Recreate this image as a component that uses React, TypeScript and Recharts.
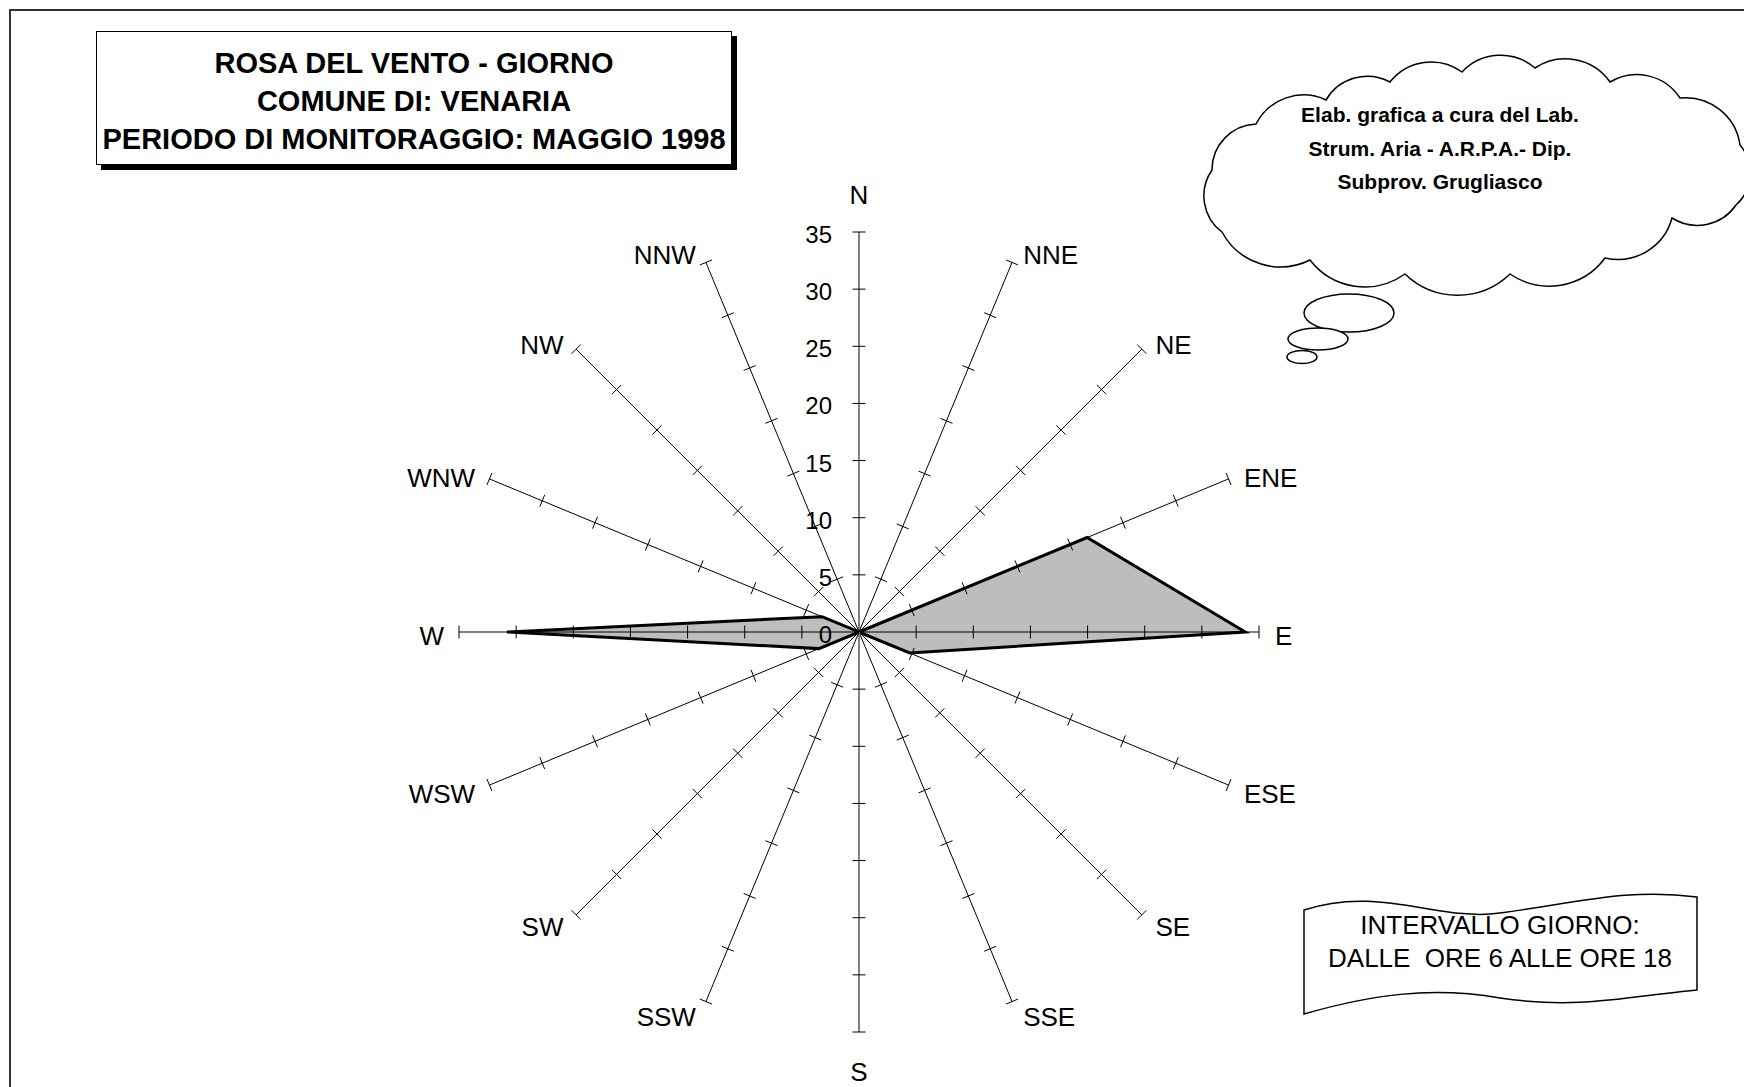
import React from 'react';
import { RadarChart, Radar, PolarAngleAxis, PolarRadiusAxis } from 'recharts';

// ── data ─────────────────────────────────────────────────────────────
const DIRECTIONS = ['N', 'NNE', 'NE', 'ENE', 'E', 'ESE', 'SE', 'SSE', 'S', 'SSW', 'SW', 'WSW', 'W', 'WNW', 'NW', 'NNW'];
const FREQUENCY = [0, 0, 0, 21.6, 33.8, 4.8, 0, 0, 0, 0, 0, 3.8, 30.8, 3.5, 0, 0];
const RADIUS_TICKS = [0, 5, 10, 15, 20, 25, 30, 35];

const TITLE_LINES = ['ROSA DEL VENTO - GIORNO', 'COMUNE DI: VENARIA', 'PERIODO DI MONITORAGGIO: MAGGIO 1998'];
const CREDIT_LINES = ['Elab. grafica a cura del Lab.', 'Strum. Aria - A.R.P.A.- Dip.', 'Subprov. Grugliasco'];
const NOTE_LINES = ['INTERVALLO GIORNO:', 'DALLE  ORE 6 ALLE ORE 18'];

const chartData = DIRECTIONS.map((dir, i) => ({ dir, freq: FREQUENCY[i] }));

const FONT = "Arial, 'Liberation Sans', Helvetica, sans-serif";

// ── ticks ────────────────────────────────────────────────────────────

function DirTick(props: any) {
  const { x, y, payload } = props;
  const a = (payload.coordinate * Math.PI) / 180;
  const c = Math.cos(a);
  const s = Math.sin(a);
  let tx = x;
  let ty = y;
  let anchor: 'start' | 'middle' | 'end' = 'middle';
  if (Math.abs(c) < 0.01) {
    ty = s > 0 ? y - 20 : y + 41;
  } else {
    anchor = c > 0 ? 'start' : 'end';
    tx = x + (c > 0 ? 8 : -7);
    ty = y + 13 - 4 * s;
  }
  return (
    <text x={tx} y={ty} textAnchor={anchor} fontSize={26} fontFamily={FONT} fill="#000">
      {payload.value}
    </text>
  );
}

const makeSpokeTick = (angle: number, labelled: boolean) => (props: any) => {
  const { x, y, payload } = props;
  const a = (angle * Math.PI) / 180;
  const px = Math.sin(a);
  const py = Math.cos(a);
  const len = 6.5;
  return (
    <g>
      {payload.value !== 0 && (
        <line x1={x - len * px} y1={y - len * py} x2={x + len * px} y2={y + len * py} stroke="#000" strokeWidth={1} />
      )}
      {labelled && (
        <text x={x - 27} y={y + 11} textAnchor="end" fontSize={24} fontFamily={FONT} fill="#000">
          {payload.value}
        </text>
      )}
    </g>
  );
};

// ── decorations ──────────────────────────────────────────────────────

function Cloud() {
  const pts = [
    [1222, 232], [1212, 170], [1256, 124], [1326, 100], [1390, 82], [1462, 72], [1535, 68],
    [1610, 82], [1680, 98], [1740, 145], [1736, 205], [1672, 218], [1605, 258], [1510, 274],
    [1405, 274], [1310, 260],
  ];
  let d = `M ${pts[0][0]} ${pts[0][1]}`;
  for (let i = 1; i <= pts.length; i++) {
    const p = pts[i % pts.length];
    const q = pts[i - 1];
    const chord = Math.hypot(p[0] - q[0], p[1] - q[1]);
    const r = chord * 0.72;
    d += ` A ${r} ${r} 0 0 1 ${p[0]} ${p[1]}`;
  }
  return (
    <svg width={1744} height={1087} style={{ position: 'absolute', left: 0, top: 0 }}>
      <path d={d} fill="#fff" stroke="#000" strokeWidth={1.5} />
      <ellipse cx={1349} cy={313} rx={45} ry={19} fill="#fff" stroke="#000" strokeWidth={1.5} />
      <ellipse cx={1318} cy={339} rx={30} ry={11} fill="#fff" stroke="#000" strokeWidth={1.5} />
      <ellipse cx={1302} cy={357} rx={15} ry={6.5} fill="#fff" stroke="#000" strokeWidth={1.5} />
      {CREDIT_LINES.map((t, i) => (
        <text key={t} x={1440} y={122 + i * 33.5} textAnchor="middle" fontSize={21} fontWeight="bold" fontFamily={FONT}>
          {t}
        </text>
      ))}
      <path
        d="M 1304 910 C 1380 885, 1440 922, 1500 913 C 1580 902, 1630 888, 1697 897 L 1697 990 C 1630 996, 1580 1010, 1500 998 C 1430 986, 1370 995, 1304 1014 Z"
        fill="#fff"
        stroke="#000"
        strokeWidth={1.5}
      />
      {NOTE_LINES.map((t, i) => (
        <text key={t} x={1500} y={934 + i * 33} textAnchor="middle" fontSize={26} fontFamily={FONT} style={{ whiteSpace: 'pre' }}>
          {t}
        </text>
      ))}
    </svg>
  );
}

function TitleBox() {
  return (
    <div
      style={{
        position: 'absolute',
        left: 96,
        top: 31,
        width: 636,
        height: 134,
        border: '1.5px solid #000',
        background: '#fff',
        boxShadow: '5px 5px 0 #000',
        boxSizing: 'border-box',
        fontFamily: FONT,
        fontWeight: 'bold',
        fontSize: 29,
        lineHeight: '38px',
        textAlign: 'center',
        paddingTop: 12,
        whiteSpace: 'nowrap',
      }}
    >
      {TITLE_LINES.map((t) => (
        <div key={t}>{t}</div>
      ))}
    </div>
  );
}

// ── app ──────────────────────────────────────────────────────────────

export default function App() {
  const angles = DIRECTIONS.map((_, i) => 90 - i * 22.5);
  return (
    <div style={{ position: 'absolute', left: 0, top: 0, width: 1744, height: 1087, overflow: 'hidden', background: '#fff' }}>
      <div
        style={{
          position: 'absolute',
          left: 9,
          top: 9,
          width: 1800,
          height: 1200,
          borderLeft: '2px solid #333',
          borderTop: '2px solid #333',
        }}
      />
      <div style={{ position: 'absolute', left: 0, top: 0 }}>
        <RadarChart
          width={1744}
          height={1087}
          data={chartData}
          cx={859}
          cy={632}
          outerRadius={400}
          startAngle={90}
          endAngle={-270}
          margin={{ top: 0, right: 0, bottom: 0, left: 0 }}
        >
          {/* invisible series so every spoke axis gets registered */}
          {angles.map((_, i) =>
            i === 0 ? null : (
              <Radar
                key={`h${i}`}
                dataKey="freq"
                radiusAxisId={i}
                fill="none"
                stroke="none"
                dot={false}
                legendType="none"
                isAnimationActive={false}
              />
            )
          )}
          <Radar
            dataKey="freq"
            radiusAxisId={0}
            fill="#bdbdbd"
            fillOpacity={1}
            stroke="#000"
            strokeWidth={3}
            dot={false}
            isAnimationActive={false}
          />
          <PolarAngleAxis dataKey="dir" tick={DirTick} tickLine={false} axisLine={false} tickSize={8} />
          {angles.map((a, i) => (
            <PolarRadiusAxis
              key={i}
              radiusAxisId={i}
              angle={a}
              type="number"
              domain={[0, 35]}
              ticks={RADIUS_TICKS}
              tickCount={8}
              axisLine={{ stroke: i % 8 === 0 ? '#808080' : '#000', strokeWidth: i % 8 === 0 ? 2 : 1 }}
              tick={makeSpokeTick(a, i === 0)}
            />
          ))}
        </RadarChart>
      </div>
      <TitleBox />
      <Cloud />
    </div>
  );
}
